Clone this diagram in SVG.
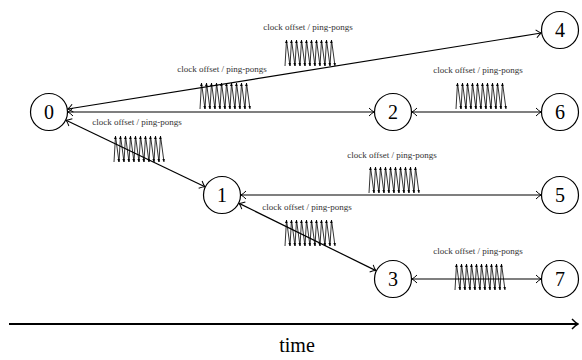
<svg xmlns="http://www.w3.org/2000/svg" xmlns:xlink="http://www.w3.org/1999/xlink" width="582" height="360" viewBox="0 0 582 360">
<style>
.node circle{fill:#fff;stroke:#000;stroke-width:1.2}
.node text{font-family:"Liberation Serif","DejaVu Serif",serif;font-size:20px;text-anchor:middle;fill:#000}
.edge{stroke:#000;stroke-width:1.2;fill:none;marker-start:url(#arr);marker-end:url(#arr)}
.lbl{font-family:"Liberation Serif","DejaVu Serif",serif;font-size:9px;text-anchor:middle;fill:#333}
.pp line{stroke:#000;stroke-width:0.8;marker-end:url(#sa)}
</style>
<defs>
<marker id="arr" viewBox="-6 -5 7 10" refX="0" refY="0" markerWidth="7" markerHeight="10" markerUnits="userSpaceOnUse" orient="auto-start-reverse">
<path d="M-5,-4 Q-2,-1 0,0 Q-2,1 -5,4" fill="none" stroke="#000" stroke-width="1"/>
</marker>
<marker id="sa" viewBox="-3 -1.5 3 3" refX="0" refY="0" markerWidth="3" markerHeight="3" markerUnits="userSpaceOnUse" orient="auto">
<path d="M-3,-1.3 L0,0 L-3,1.3 Z" fill="#000"/>
</marker>
<marker id="big" viewBox="-8 -6 9 12" refX="0" refY="0" markerWidth="9" markerHeight="12" markerUnits="userSpaceOnUse" orient="auto">
<path d="M-6,-5 Q-2.5,-1.2 0,0 Q-2.5,1.2 -6,5" fill="none" stroke="#000" stroke-width="1.4"/>
</marker>
<g id="pp" class="pp">
<line x1="0" y1="26" x2="1.5" y2="0"/><line x1="1.5" y1="0" x2="5" y2="26"/>
<line x1="5" y1="26" x2="6.5" y2="0"/><line x1="6.5" y1="0" x2="10" y2="26"/>
<line x1="10" y1="26" x2="11.5" y2="0"/><line x1="11.5" y1="0" x2="15" y2="26"/>
<line x1="15" y1="26" x2="16.5" y2="0"/><line x1="16.5" y1="0" x2="20" y2="26"/>
<line x1="20" y1="26" x2="21.5" y2="0"/><line x1="21.5" y1="0" x2="25" y2="26"/>
<line x1="25" y1="26" x2="26.5" y2="0"/><line x1="26.5" y1="0" x2="30" y2="26"/>
<line x1="30" y1="26" x2="31.5" y2="0"/><line x1="31.5" y1="0" x2="35" y2="26"/>
<line x1="35" y1="26" x2="36.5" y2="0"/><line x1="36.5" y1="0" x2="40" y2="26"/>
<line x1="40" y1="26" x2="41.5" y2="0"/><line x1="41.5" y1="0" x2="45" y2="26"/>
<line x1="45" y1="26" x2="46.5" y2="0"/><line x1="46.5" y1="0" x2="50" y2="26"/>
</g>
</defs>
<rect width="582" height="360" fill="#fff"/>
<g id="connectors">
<line class="edge" x1="67.8" y1="109" x2="541.2" y2="33"/>
<line class="edge" x1="68" y1="112" x2="374" y2="112"/>
<line class="edge" x1="66.1" y1="120.2" x2="204.9" y2="186.8"/>
<line class="edge" x1="241" y1="195" x2="541" y2="195"/>
<line class="edge" x1="239.1" y1="203.4" x2="375.9" y2="270.6"/>
<line class="edge" x1="412" y1="112" x2="541" y2="112"/>
<line class="edge" x1="412" y1="279" x2="541" y2="279"/>
</g>
<g id="pingpongs">
<use xlink:href="#pp" href="#pp" x="285" y="40"/>
<use xlink:href="#pp" href="#pp" x="200" y="83"/>
<use xlink:href="#pp" href="#pp" x="456" y="83"/>
<use xlink:href="#pp" href="#pp" x="114" y="136"/>
<use xlink:href="#pp" href="#pp" x="369" y="167"/>
<use xlink:href="#pp" href="#pp" x="285" y="220"/>
<use xlink:href="#pp" href="#pp" x="455" y="264"/>
</g>
<g id="labels">
<text class="lbl" x="308" y="30">clock offset / ping-pongs</text>
<text class="lbl" x="222" y="72">clock offset / ping-pongs</text>
<text class="lbl" x="478" y="73">clock offset / ping-pongs</text>
<text class="lbl" x="137" y="125">clock offset / ping-pongs</text>
<text class="lbl" x="392" y="158">clock offset / ping-pongs</text>
<text class="lbl" x="307" y="210">clock offset / ping-pongs</text>
<text class="lbl" x="478" y="254">clock offset / ping-pongs</text>
</g>
<g id="node0" class="node"><circle cx="49" cy="112" r="18.5"/><text x="49" y="119">0</text></g>
<g id="node4" class="node"><circle cx="560" cy="30" r="18.5"/><text x="560" y="37">4</text></g>
<g id="node2" class="node"><circle cx="393" cy="112" r="18.5"/><text x="393" y="119">2</text></g>
<g id="node6" class="node"><circle cx="560" cy="112" r="18.5"/><text x="560" y="119">6</text></g>
<g id="node1" class="node"><circle cx="222" cy="195" r="18.5"/><text x="222" y="202">1</text></g>
<g id="node5" class="node"><circle cx="560" cy="195" r="18.5"/><text x="560" y="202">5</text></g>
<g id="node3" class="node"><circle cx="393" cy="279" r="18.5"/><text x="393" y="286">3</text></g>
<g id="node7" class="node"><circle cx="560" cy="279" r="18.5"/><text x="560" y="286">7</text></g>
<g id="timeaxis">
<line x1="9" y1="324" x2="578" y2="324" stroke="#000" stroke-width="2" marker-end="url(#big)"/>
<text x="297" y="352" font-family="Liberation Serif, DejaVu Serif, serif" font-size="20" text-anchor="middle">time</text>
</g>
</svg>
